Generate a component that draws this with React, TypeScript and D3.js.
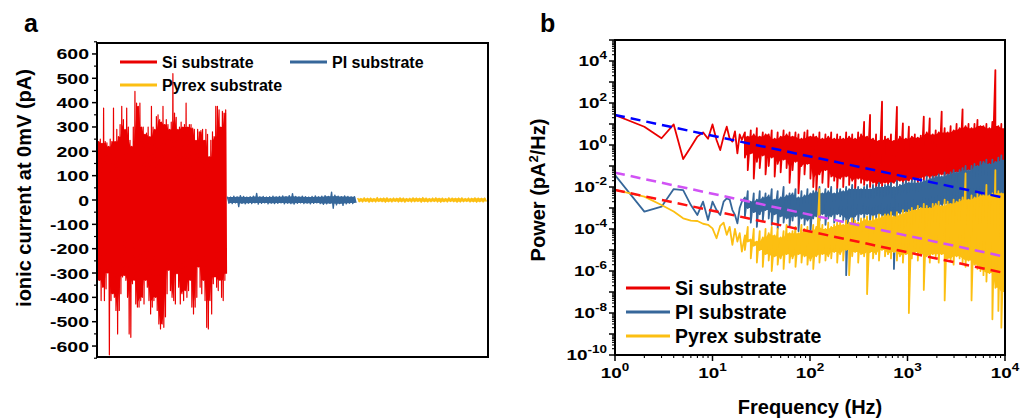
import React from "react";
import * as d3 from "d3";

const FONT = "'Liberation Sans', Arial, Helvetica, sans-serif";
const RED = "#ea0000";
const BLUE = "#36679a";
const YELLOW = "#fcbf12";

// ---------- panel a: ionic current at 0 mV (pA), peak / trough pairs along each recording ----------
const siUpper = [
  330, 240, 250, 233, 378, 240, 235, 220, 250, 240, 378, 240, 290, 260, 310, 385, 330, 290, 378, 300,
  245, 220, 300, 446, 398, 385, 398, 300, 300, 270, 275, 300, 260, 385, 300, 290, 343, 350, 330, 320,
  385, 310, 330, 310, 290, 320, 519, 357, 340, 290, 300, 320, 300, 310, 398, 300, 310, 310, 295, 290,
  245, 290, 280, 285, 290, 245, 290, 270, 178, 245, 280, 260, 385, 385, 370, 300, 364, 357, 370,
];
const siLower = [
  -330, -330, -413, -358, -413, -365, -300, -636, -413, -385, -400, -454, -550, -454, -385, -316, -310, -330, -400, -550,
  -564, -344, -330, -427, -440, -440, -413, -400, -427, -330, -358, -413, -468, -440, -413, -400, -454, -509, -530, -509,
  -523, -480, -385, -289, -372, -400, -413, -427, -303, -358, -427, -385, -413, -372, -400, -372, -330, -440, -468, -440,
  -400, -275, -358, -385, -330, -413, -523, -530, -413, -468, -344, -316, -358, -372, -330, -400, -413, -330, -303,
];
const piUpper = [
  14, 12, 16, 13, 18, 15, 12, 14, 16, 27, 13, 15, 12, 14, 16, 13, 15, 17, 14, 18,
  26, 15, 13, 16, 14, 12, 15, 17, 13, 16, 18, 15, 32, 20, 16, 14, 17, 15, 13, 14,
];
const piLower = [
  -13, -15, -12, -27, -14, -16, -13, -15, -12, -17, -14, -12, -16, -13, -15, -14, -12, -16, -13, -15,
  -17, -14, -12, -15, -13, -16, -14, -12, -15, -18, -16, -14, -34, -20, -15, -22, -16, -13, -15, -12,
];
const pyrexUpper = [
  8, 6, 9, 7, 8, 6, 10, 7, 8, 9, 6, 8, 7, 9, 8, 6, 7, 9, 8, 7,
  10, 8, 6, 8, 9, 7, 8, 6, 9, 8, 7, 8, 9, 6, 8, 7, 9, 8, 7, 8,
];
const pyrexLower = [
  -7, -8, -6, -9, -7, -8, -6, -7, -9, -7, -8, -6, -8, -7, -9, -6, -8, -7, -6, -9,
  -7, -8, -7, -6, -8, -9, -7, -8, -6, -7, -9, -8, -7, -6, -8, -7, -9, -7, -8, -6,
];
const currentTicks = [-600, -500, -400, -300, -200, -100, 0, 100, 200, 300, 400, 500, 600];

// ---------- panel b: power spectra, log10(pA^2/Hz) ----------
const lowFreq = [1, 2, 3, 4, 5, 6, 7, 8, 9, 10, 11, 12, 13, 14, 15, 16, 17, 18, 19, 20];
const siLow = [1.43, 0.87, 0.32, 0.98, -0.67, -0.1, 0.4, 0.6, 0.3, 0.98, 0.24, -0.24, 0.4, 0.87, 0.3, 0.16, 0.65, -0.4, 0.5, 0.24];
const piLow = [-1.43, -3.17, -2.94, -2.1, -2.15, -2.86, -3.33, -2.7, -3.57, -2.7, -3.1, -3.33, -2.7, -2.54, -2.6, -3.1, -3.33, -3.73, -3.0, -2.7];
const pyrexLow = [-2.14, -2.46, -2.86, -3.17, -3.49, -3.6, -3.62, -3.75, -3.8, -3.97, -4.44, -3.85, -3.7, -4.28, -3.9, -4.76, -4.0, -4.6, -4.2, -5.08];

const bandFreq = [
  21.5, 23, 24.7, 26.5, 28.5, 30.5, 32.8, 35,
  37.7, 40.5, 43.4, 46.6, 50, 53.6, 57.5, 61.7,
  66.2, 71, 76.2, 81.8, 87.8, 94.2, 101, 108,
  116, 125, 134, 144, 154, 165, 177, 190,
  204, 219, 235, 252, 271, 290, 312, 334,
  359, 385, 413, 443, 476, 510, 548, 588,
  631, 677, 726, 779, 836, 897, 963, 1033,
  1108, 1189, 1276, 1369, 1469, 1576, 1691, 1815,
  1947, 2089, 2242, 2405, 2581, 2769, 2971, 3188,
  3421, 3671, 3939, 4226, 4535, 4866, 5221, 5602,
  6011, 6450, 6920, 7425, 7967, 8549, 9173, 10000,
];
const siHi = [
  0.6, 0.4, 0.7, 0.5, 0.8, 0.4, 0.6, 0.5,
  0.5, 0.7, 0.3, 0.6, 0.4, 0.7, 0.5, 0.6,
  0.4, 0.6, 0.5, 0.3, 0.6, 0.7, 0.4, 0.5,
  0.4, 0.6, 0.3, 0.5, 0.4, 0.6, 0.3, 0.5,
  0.4, 0.3, 0.6, 0.4, 0.5, 0.3, 0.6, 0.5,
  1.1, 0.4, 1.43, 0.3, 0.5, 0.2, 2.06, 0.4,
  0.3, 0.5, 0.2, 1.82, 0.4, 1.03, 0.3, 0.87,
  0.4, 0.5, 0.35, 0.45, 1.35, 0.6, 1.27, 0.5,
  0.7, 0.6, 1.59, 0.8, 0.6, 0.9, 0.7, 1.0,
  0.8, 1.7, 0.9, 1.0, 0.8, 1.0, 1.19, 0.9,
  0.9, 1.0, 0.8, 1.1, 3.57, 0.9, 1.0, 0.8,
];
const siLo = [
  -0.6, -1.2, -0.4, -1.6, -0.8, -1.1, -0.5, -1.4,
  -1.0, -0.6, -1.5, -0.9, -1.3, -0.7, -1.1, -1.8,
  -1.2, -0.8, -2.3, -1.0, -1.4, -0.9, -1.6, -2.0,
  -2.3, -1.4, -1.8, -1.2, -2.0, -1.5, -1.7, -2.1,
  -1.6, -2.0, -1.5, -1.9, -1.7, -2.2, -1.6, -1.8,
  -1.9, -1.7, -2.0, -1.8, -2.1, -1.9, -2.0, -1.8,
  -1.9, -2.0, -1.8, -1.9, -1.7, -1.8, -1.9, -1.7,
  -1.7, -1.6, -1.8, -1.6, -1.7, -1.5, -1.6, -1.7,
  -1.5, -1.6, -1.4, -1.5, -1.6, -1.4, -1.5, -1.3,
  -1.4, -1.3, -1.5, -1.2, -1.4, -1.3, -1.2, -1.4,
  -1.2, -1.3, -1.1, -1.2, -1.0, -1.2, -1.1, -1.0,
];
const piHi = [
  -2.5, -2.2, -2.7, -2.3, -2.6, -2.2, -2.5, -2.3,
  -2.4, -2.1, -2.6, -2.2, -2.5, -2.0, -2.4, -2.3,
  -2.3, -2.1, -2.5, -2.2, -2.4, -2.1, -2.3, -2.2,
  -2.2, -2.0, -2.3, -2.1, -2.2, -2.0, -2.3, -2.1,
  -2.1, -2.2, -2.0, -2.1, -1.9, -2.1, -2.0, -2.1,
  -2.0, -1.9, -2.1, -1.9, -2.0, -1.8, -2.0, -1.9,
  -1.9, -1.8, -2.0, -1.7, -1.9, -1.8, -1.7, -1.8,
  -1.7, -1.6, -1.8, -1.6, -1.7, -1.5, -1.6, -1.5,
  -1.5, -1.4, -1.5, -1.3, -1.4, -1.3, -1.2, -1.3,
  -1.2, -1.1, -1.0, -1.2, -1.0, -0.9, -1.0, -0.8,
  -0.8, -0.7, -0.9, -0.7, -0.8, -0.6, -0.5, -0.7,
];
const piLo = [
  -3.4, -3.0, -3.7, -3.2, -3.9, -3.3, -3.6, -3.1,
  -3.5, -3.8, -3.3, -4.0, -3.4, -3.7, -3.5, -3.9,
  -3.6, -3.4, -4.1, -3.5, -3.8, -3.6, -4.2, -3.5,
  -3.4, -3.6, -3.3, -3.8, -3.5, -3.4, -3.7, -3.3,
  -3.4, -3.6, -6.2, -3.5, -5.0, -3.4, -3.6, -3.3,
  -3.5, -3.3, -3.6, -3.4, -3.5, -3.3, -3.6, -3.4,
  -3.4, -3.5, -5.9, -3.3, -3.4, -3.2, -3.3, -3.2,
  -3.2, -3.1, -3.3, -3.0, -3.2, -3.1, -3.0, -3.1,
  -3.0, -2.9, -3.1, -2.8, -3.0, -2.9, -2.8, -2.9,
  -2.8, -2.7, -2.9, -2.7, -2.8, -2.6, -2.7, -2.6,
  -2.6, -2.5, -2.7, -2.5, -2.6, -2.5, -2.4, -4.0,
];
const pyrexHi = [
  -4.3, -3.9, -4.5, -4.0, -4.6, -4.1, -4.4, -4.0,
  -4.2, -3.9, -4.3, -4.0, -4.4, -4.1, -3.8, -4.2,
  -4.1, -3.9, -4.2, -3.8, -4.0, -3.9, -4.1, -3.8,
  -3.9, -2.1, -3.8, -4.0, -3.7, -3.9, -3.8, -3.7,
  -3.7, -3.8, -3.6, -3.7, -3.5, -3.6, -3.7, -3.5,
  -3.5, -3.4, -3.6, -3.4, -3.5, -3.3, -3.4, -3.3,
  -3.3, -3.2, -3.4, -3.2, -3.3, -3.1, -3.2, -3.1,
  -3.0, -3.1, -2.9, -3.0, -2.8, -2.9, -3.0, -2.8,
  -2.8, -2.7, -2.9, -2.6, -2.7, -2.8, -2.6, -2.7,
  -2.6, -2.5, -1.35, -2.6, -2.4, -2.5, -2.3, -2.4,
  -2.3, -1.9, -2.4, -2.3, -1.2, -2.2, -2.3, -2.2,
];
const pyrexLo = [
  -5.0, -4.6, -5.4, -4.8, -5.6, -5.0, -5.8, -5.2,
  -5.5, -6.0, -5.3, -5.7, -5.4, -5.9, -5.2, -5.6,
  -5.4, -5.8, -5.2, -5.6, -5.3, -5.7, -5.5, -5.9,
  -5.3, -5.6, -5.2, -5.5, -5.3, -5.4, -5.1, -5.6,
  -5.2, -5.5, -5.0, -6.2, -5.3, -5.1, -5.6, -5.2,
  -5.3, -7.1, -5.1, -5.4, -5.2, -5.5, -5.0, -5.3,
  -5.2, -5.4, -5.1, -5.5, -5.3, -5.6, -5.2, -8.0,
  -5.4, -5.1, -5.5, -5.2, -6.9, -5.3, -5.6, -5.2,
  -5.3, -5.6, -5.2, -7.4, -5.4, -5.5, -5.7, -5.3,
  -5.4, -5.6, -5.8, -5.5, -7.4, -5.7, -5.9, -6.0,
  -6.2, -6.5, -6.1, -8.3, -6.8, -7.9, -8.7, -7.0,
];

// power-law fits (log10 power at 1 Hz and at 10 kHz)
const fitFreq = [1, 10000];
const fitSi = [1.43, -2.52];
const fitPi = [-1.32, -5.32];
const fitPyrex = [-2.14, -6.1];

const powerExponents = [-10, -9, -8, -7, -6, -5, -4, -3, -2, -1, 0, 1, 2, 3, 4, 5];
const freqExponents = [0, 1, 2, 3, 4];

const legendNames = ["Si substrate", "PI substrate", "Pyrex substrate"];

function Stretched(props: any) {
  const { x, y, anchor, size, sx = 1.3, children } = props;
  return (
    <text transform={`translate(${x},${y}) scale(${sx},1)`} textAnchor={anchor} fontSize={size} fontWeight="bold">
      {children}
    </text>
  );
}

function PanelA() {
  const left = 97, right = 488, top = 43, bottom = 357;
  const x = d3.scaleLinear().domain([0, 3]).range([left, right]);
  const y = d3.scaleLinear().domain([-645, 645]).range([bottom, top]);
  const line = d3.line<[number, number]>().x((d) => x(d[0])).y((d) => y(d[1]));
  const area = d3
    .area<[number, number, number]>()
    .x((d) => x(d[0]))
    .y0((d) => y(d[2]))
    .y1((d) => y(d[1]));

  const traces = [
    { color: RED, up: siUpper, lo: siLower, w: 1.2 },
    { color: BLUE, up: piUpper, lo: piLower, w: 1.4 },
    { color: YELLOW, up: pyrexUpper, lo: pyrexLower, w: 1.4 },
  ].map((t, s) => {
    const n = t.up.length;
    const pts: [number, number][] = [];
    const band: [number, number, number][] = [];
    t.up.forEach((v, i) => {
      pts.push([s + i / n, v]);
      pts.push([s + (i + 0.5) / n, t.lo[i]]);
      // solid core: the smaller of neighbouring peaks / troughs
      const a = Math.max(0, i - 1), b = Math.min(n - 1, i + 1);
      band.push([s + (i + 0.25) / n, Math.min(t.up[a], v, t.up[b]), Math.max(t.lo[a], t.lo[i], t.lo[b])]);
    });
    return { ...t, d: line(pts), a: area(band) };
  });

  const minor = d3.range(-650, 651, 50).filter((v) => v % 100 !== 0);

  return (
    <g>
      <text x={24} y={32} fontSize={25} fontWeight="bold">a</text>
      {traces.map((t, i) => (
        <g key={i}>
          <path d={t.a || ""} fill={t.color} />
          <path d={t.d || ""} fill="none" stroke={t.color} strokeWidth={t.w} strokeLinejoin="round" />
        </g>
      ))}
      {currentTicks.map((v) => (
        <g key={v}>
          <line x1={left - 5} x2={left} y1={y(v)} y2={y(v)} stroke="#000" strokeWidth={1.5} />
          <Stretched x={left - 8} y={y(v) + 5.5} anchor="end" size={15}>{v}</Stretched>
        </g>
      ))}
      {minor.map((v) => (
        <line key={v} x1={left - 3} x2={left} y1={y(v)} y2={y(v)} stroke="#000" strokeWidth={1.2} />
      ))}
      <rect x={left} y={top} width={right - left} height={bottom - top} fill="none" stroke="#000" strokeWidth={2} />
      <text transform={`translate(31,188) rotate(-90)`} textAnchor="middle" fontSize={20} fontWeight="bold">
        ionic current at 0mV (pA)
      </text>
      {[
        { x: 120, y: 62, c: RED, t: legendNames[0] },
        { x: 290, y: 62, c: BLUE, t: legendNames[1] },
        { x: 120, y: 85, c: YELLOW, t: legendNames[2] },
      ].map((l) => (
        <g key={l.t}>
          <line x1={l.x} x2={l.x + 37} y1={l.y} y2={l.y} stroke={l.c} strokeWidth={3} />
          <text x={l.x + 42} y={l.y + 5.5} fontSize={16} fontWeight="bold">{l.t}</text>
        </g>
      ))}
    </g>
  );
}

function PanelB() {
  const left = 615, right = 1005, top = 40, bottom = 355;
  const fx = d3.scaleLog().domain([1, 1e4]).range([left, right]);
  const py = d3.scaleLinear().domain([-10, 5]).range([bottom, top]);
  const line = d3.line<[number, number]>().x((d) => fx(d[0])).y((d) => py(d[1]));
  const area = d3
    .area<[number, number, number]>()
    .x((d) => fx(d[0]))
    .y0((d) => py(d[2]))
    .y1((d) => py(d[1]));

  const series = [
    { color: RED, low: siLow, hi: siHi, lo: siLo },
    { color: BLUE, low: piLow, hi: piHi, lo: piLo },
    { color: YELLOW, low: pyrexLow, hi: pyrexHi, lo: pyrexLo },
  ].map((s) => {
    const pts: [number, number][] = lowFreq.map((f, i) => [f, s.low[i]]);
    bandFreq.forEach((f, i) => {
      pts.push([f, s.hi[i]]);
      pts.push([f, s.lo[i]]);
    });
    const n = bandFreq.length;
    // dense core of the spectrum: the lowest neighbouring peak down to the highest neighbouring trough
    const band: [number, number, number][] = bandFreq.map((f, i) => {
      const a = Math.max(0, i - 1), b = Math.min(n - 1, i + 1);
      return [f, Math.min(s.hi[a], s.hi[i], s.hi[b]), Math.max(s.lo[a], s.lo[i], s.lo[b])];
    });
    return { color: s.color, line: line(pts) || "", area: area(band) || "" };
  });

  const fits = [
    { c: "#0000ff", v: fitSi },
    { c: "#d152f5", v: fitPi },
    { c: "#ff1010", v: fitPyrex },
  ];

  const yMinor: number[] = [];
  powerExponents.slice(0, -1).forEach((e) => {
    for (let k = 2; k <= 9; k++) yMinor.push(e + Math.log10(k));
  });
  const xMinor: number[] = [];
  freqExponents.slice(0, -1).forEach((e) => {
    for (let k = 2; k <= 9; k++) xMinor.push(k * Math.pow(10, e));
  });

  return (
    <g>
      <text x={540} y={32} fontSize={25} fontWeight="bold">b</text>
      <defs>
        <clipPath id="clipB">
          <rect x={left} y={top} width={right - left} height={bottom - top} />
        </clipPath>
      </defs>
      <g clipPath="url(#clipB)">
        {series.map((s, i) => (
          <g key={i}>
            <path d={s.area} fill={s.color} />
            <path d={s.line} fill="none" stroke={s.color} strokeWidth={1.8} strokeLinejoin="round" />
          </g>
        ))}
        {fits.map((f, i) => (
          <line
            key={i}
            x1={fx(fitFreq[0])}
            x2={fx(fitFreq[1])}
            y1={py(f.v[0])}
            y2={py(f.v[1])}
            stroke={f.c}
            strokeWidth={2.5}
            strokeDasharray="10 6"
          />
        ))}
      </g>
      {powerExponents.map((e) => (
        <line key={e} x1={left - 6} x2={left} y1={py(e)} y2={py(e)} stroke="#000" strokeWidth={1.5} />
      ))}
      {yMinor.map((v, i) => (
        <line key={i} x1={left - 3} x2={left} y1={py(v)} y2={py(v)} stroke="#000" strokeWidth={1.1} />
      ))}
      {powerExponents
        .filter((e) => e % 2 === 0 && e <= 4)
        .map((e) => (
          <Stretched key={e} x={left - 8} y={py(e) + 5} anchor="end" size={14} sx={1.35}>
            <tspan>10</tspan>
            <tspan dy={-7} fontSize={10}>{e}</tspan>
          </Stretched>
        ))}
      {freqExponents.map((e) => (
        <g key={e}>
          <line x1={fx(Math.pow(10, e))} x2={fx(Math.pow(10, e))} y1={bottom} y2={bottom + 6} stroke="#000" strokeWidth={1.5} />
          <Stretched x={fx(Math.pow(10, e))} y={378} anchor="middle" size={14} sx={1.35}>
            <tspan>10</tspan>
            <tspan dy={-7} fontSize={10}>{e}</tspan>
          </Stretched>
        </g>
      ))}
      {xMinor.map((v, i) => (
        <line key={i} x1={fx(v)} x2={fx(v)} y1={bottom} y2={bottom + 3} stroke="#000" strokeWidth={1.1} />
      ))}
      <rect x={left} y={top} width={right - left} height={bottom - top} fill="none" stroke="#000" strokeWidth={2} />
      <text transform={`translate(545,190) rotate(-90)`} textAnchor="middle" fontSize={20} fontWeight="bold">
        <tspan>Power (pA</tspan>
        <tspan dy={-7} fontSize={13}>2</tspan>
        <tspan dy={7}>/Hz)</tspan>
      </text>
      <text x={810} y={414} textAnchor="middle" fontSize={20} fontWeight="bold">Frequency (Hz)</text>
      {[RED, BLUE, YELLOW].map((c, i) => (
        <g key={c}>
          <line x1={626} x2={670} y1={288 + i * 24} y2={288 + i * 24} stroke={c} strokeWidth={3} />
          <text x={675} y={294.5 + i * 24} fontSize={19.5} fontWeight="bold">{legendNames[i]}</text>
        </g>
      ))}
    </g>
  );
}

export default function App() {
  return (
    <svg
      width={1034}
      height={419}
      style={{ position: "absolute", left: 0, top: 0, background: "#fff" }}
      fontFamily={FONT}
    >
      <rect width={1034} height={419} fill="#fff" />
      <PanelA />
      <PanelB />
    </svg>
  );
}
